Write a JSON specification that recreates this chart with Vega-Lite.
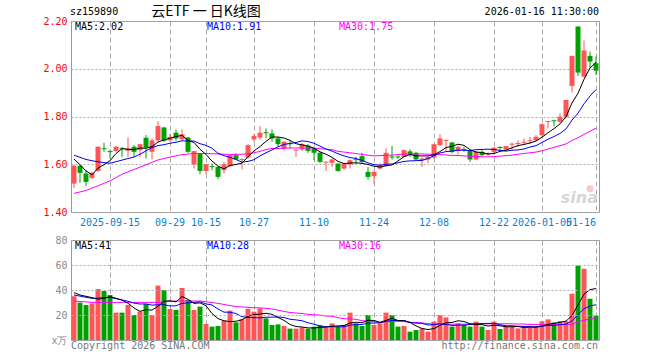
{
"$schema": "https://vega.github.io/schema/vega-lite/v6.json",
"background": "white",
"padding": {"left": 42, "top": 4, "right": 10, "bottom": 2},
"spacing": 6,
"config": {
  "view": {"stroke": "#9a9a9a", "strokeWidth": 1},
  "axis": {"labelFont": "DejaVu Sans Mono", "labelFontSize": 10, "domain": false, "ticks": false, "gridColor": "#aaaaaa", "gridWidth": 1, "labelOverlap": false, "labelBound": false},
  "axisY": {"labelFlush": false},
  "text": {"font": "DejaVu Sans Mono", "fontSize": 10}
},
"datasets": {
"k": [
{"d":"2025-09-05","o":1.519,"h":1.598,"l":1.500,"c":1.594,"v":35.0,"m5":1.622,"m10":1.638,"m30":1.478,"w5":37.9,"w10":36,"w30":31.2},
{"d":"2025-09-08","o":1.594,"h":1.597,"l":1.522,"c":1.564,"v":29.9,"m5":1.598,"w5":36},
{"d":"2025-09-09","o":1.561,"h":1.575,"l":1.509,"c":1.526,"v":28.0,"m5":1.572,"m10":1.620,"m30":1.490},
{"d":"2025-09-10","o":1.543,"h":1.568,"l":1.538,"c":1.564,"v":29.3,"m5":1.556,"w5":33.9,"w10":33.3,"w30":30.1},
{"d":"2025-09-11","o":1.572,"h":1.676,"l":1.568,"c":1.673,"v":40.8,"m5":1.584,"m10":1.610,"m30":1.510,"w5":32.6},
{"d":"2025-09-12","o":1.667,"h":1.690,"l":1.652,"c":1.663,"v":39.2,"m5":1.598,"w5":33.4},
{"d":"2025-09-15","o":1.655,"h":1.660,"l":1.624,"c":1.651,"v":36.0,"m5":1.615,"m10":1.604,"m30":1.530,"w5":34.7,"w10":34.1},
{"d":"2025-09-16","o":1.656,"h":1.676,"l":1.652,"c":1.673,"v":21.9,"m5":1.645,"w5":33.4},
{"d":"2025-09-17","o":1.668,"h":1.673,"l":1.631,"c":1.664,"v":21.9,"m5":1.665,"m30":1.558,"w5":32.0},
{"d":"2025-09-18","o":1.656,"h":1.712,"l":1.631,"c":1.666,"v":28.0,"m5":1.663,"m10":1.624,"w5":29.4,"w10":31.0,"w30":30.1},
{"d":"2025-09-19","o":1.673,"h":1.680,"l":1.631,"c":1.652,"v":20.0,"m5":1.661,"m10":1.630,"m30":1.578,"w5":25.6,"w10":29.5},
{"d":"2025-09-22","o":1.659,"h":1.686,"l":1.631,"c":1.684,"v":22.7,"m5":1.668,"m10":1.642,"w5":22.9,"w10":28.8},
{"d":"2025-09-23","o":1.711,"h":1.722,"l":1.624,"c":1.670,"v":28.8,"m5":1.667,"m10":1.656,"m30":1.598,"w5":24.3,"w10":28.9},
{"d":"2025-09-24","o":1.652,"h":1.708,"l":1.620,"c":1.700,"v":20.0,"m5":1.674,"m10":1.670,"w5":23.9,"w10":27.9},
{"d":"2025-09-25","o":1.700,"h":1.780,"l":1.694,"c":1.760,"v":43.5,"m5":1.693,"m10":1.678,"m30":1.618,"w5":27.0,"w10":28.2,"w30":30.1},
{"d":"2025-09-26","o":1.754,"h":1.757,"l":1.694,"c":1.698,"v":40.0,"m5":1.702,"m10":1.682,"w5":31.0,"w10":28.3},
{"d":"2025-09-29","o":1.700,"h":1.726,"l":1.694,"c":1.715,"v":24.8,"m5":1.709,"m10":1.688,"m30":1.630,"w5":31.4,"w10":27.2},
{"d":"2025-09-30","o":1.732,"h":1.746,"l":1.698,"c":1.708,"v":24.0,"m5":1.716,"m10":1.692,"w5":30.5,"w10":27.4,"w30":31.2},
{"d":"2025-10-09","o":1.704,"h":1.746,"l":1.700,"c":1.726,"v":41.6,"m5":1.721,"m10":1.698,"m30":1.640,"w5":34.8,"w10":29.3},
{"d":"2025-10-10","o":1.712,"h":1.715,"l":1.648,"c":1.652,"v":32.0,"m5":1.700,"m10":1.697,"w5":32.5,"w10":29.7},
{"d":"2025-10-13","o":1.600,"h":1.655,"l":1.582,"c":1.655,"v":24.0,"m5":1.691,"m10":1.697,"m30":1.645,"w5":29.3,"w10":30.1},
{"d":"2025-10-14","o":1.645,"h":1.645,"l":1.558,"c":1.572,"v":26.7,"m5":1.663,"m10":1.686,"w5":29.7,"w10":30.5,"w30":31.2},
{"d":"2025-10-15","o":1.572,"h":1.600,"l":1.558,"c":1.600,"v":12.8,"m5":1.641,"m10":1.679,"m30":1.645,"w5":27.4,"w10":28.9},
{"d":"2025-10-16","o":1.592,"h":1.603,"l":1.575,"c":1.588,"v":10.7,"m5":1.613,"m10":1.667,"w5":21.2,"w10":28.0},
{"d":"2025-10-17","o":1.589,"h":1.589,"l":1.538,"c":1.547,"v":11.2,"m5":1.592,"m10":1.646,"m30":1.643,"w5":17.1,"w10":24.8,"w30":29.3},
{"d":"2025-10-20","o":1.575,"h":1.610,"l":1.561,"c":1.600,"v":15.5,"m5":1.581,"m10":1.636,"w5":15.4,"w10":22.3},
{"d":"2025-10-21","o":1.592,"h":1.641,"l":1.589,"c":1.638,"v":23.5,"m5":1.595,"m10":1.629,"m30":1.641,"w5":14.7,"w10":22.2},
{"d":"2025-10-22","o":1.638,"h":1.645,"l":1.617,"c":1.620,"v":14.1,"m5":1.599,"m10":1.620,"w5":15.0,"w10":21.2,"w30":26.7},
{"d":"2025-10-23","o":1.618,"h":1.624,"l":1.578,"c":1.622,"v":16.5,"m5":1.605,"m10":1.609,"m30":1.642,"w5":16.2,"w10":18.7},
{"d":"2025-10-24","o":1.628,"h":1.684,"l":1.624,"c":1.680,"v":25.0,"m5":1.632,"m10":1.612,"m30":1.644,"w5":18.9,"w10":18.0,"w30":26.2},
{"d":"2025-10-27","o":1.704,"h":1.726,"l":1.694,"c":1.718,"v":22.7,"m5":1.656,"m10":1.619,"m30":1.648,"w5":20.4,"w10":17.9,"w30":25.8},
{"d":"2025-10-28","o":1.712,"h":1.760,"l":1.704,"c":1.732,"v":25.3,"m5":1.674,"m10":1.635,"m30":1.654,"w5":20.7,"w10":17.7,"w30":25.7},
{"d":"2025-10-29","o":1.734,"h":1.750,"l":1.708,"c":1.730,"v":17.3,"m5":1.696,"m10":1.648,"m30":1.661,"w5":21.4,"w10":18.2,"w30":25.3},
{"d":"2025-10-30","o":1.729,"h":1.746,"l":1.694,"c":1.708,"v":12.0,"m5":1.714,"m10":1.660,"m30":1.666,"w5":20.5,"w10":18.3,"w30":24.8},
{"d":"2025-10-31","o":1.708,"h":1.715,"l":1.673,"c":1.684,"v":12.5,"m5":1.714,"m10":1.673,"m30":1.666,"w5":18.0,"w10":18.4,"w30":23.8},
{"d":"2025-11-03","o":1.666,"h":1.698,"l":1.659,"c":1.694,"v":11.2,"m5":1.710,"m10":1.683,"m30":1.667,"w5":15.7,"w10":18.0,"w30":22.9},
{"d":"2025-11-04","o":1.688,"h":1.700,"l":1.666,"c":1.684,"v":9.1,"m5":1.700,"m10":1.687,"m30":1.668,"w5":12.4,"w10":16.6,"w30":22.0},
{"d":"2025-11-05","o":1.657,"h":1.662,"l":1.631,"c":1.661,"v":9.1,"m5":1.686,"m10":1.691,"m30":1.668,"w5":10.8,"w10":16.1,"w30":21.6},
{"d":"2025-11-06","o":1.662,"h":1.690,"l":1.656,"c":1.684,"v":10.1,"m5":1.681,"m10":1.698,"m30":1.668,"w5":10.4,"w10":15.4,"w30":21.2},
{"d":"2025-11-07","o":1.678,"h":1.684,"l":1.648,"c":1.656,"v":9.1,"m5":1.676,"m10":1.695,"m30":1.668,"w5":9.7,"w10":13.8,"w30":20.5},
{"d":"2025-11-10","o":1.666,"h":1.670,"l":1.617,"c":1.648,"v":10.7,"m5":1.667,"m10":1.688,"m30":1.668,"w5":9.6,"w10":12.6,"w30":20.2},
{"d":"2025-11-11","o":1.648,"h":1.652,"l":1.606,"c":1.610,"v":11.7,"m5":1.652,"m10":1.676,"m30":1.665,"w5":10.1,"w10":11.3,"w30":19.9},
{"d":"2025-11-12","o":1.607,"h":1.611,"l":1.572,"c":1.611,"v":10.1,"m5":1.642,"m10":1.664,"m30":1.663,"w5":10.3,"w10":10.6,"w30":19.2},
{"d":"2025-11-13","o":1.606,"h":1.624,"l":1.589,"c":1.620,"v":13.3,"m5":1.629,"m10":1.655,"m30":1.661,"w5":11.0,"w10":10.7,"w30":19.0},
{"d":"2025-11-14","o":1.603,"h":1.603,"l":1.568,"c":1.572,"v":10.7,"m5":1.612,"m10":1.644,"m30":1.654,"w5":11.3,"w10":10.5,"w30":17.9},
{"d":"2025-11-17","o":1.582,"h":1.606,"l":1.578,"c":1.603,"v":12.0,"m5":1.603,"m10":1.635,"m30":1.651,"w5":11.6,"w10":10.6,"w30":17.0},
{"d":"2025-11-18","o":1.600,"h":1.620,"l":1.582,"c":1.617,"v":21.9,"m5":1.605,"m10":1.628,"m30":1.648,"w5":13.6,"w10":11.9,"w30":16.9},
{"d":"2025-11-19","o":1.621,"h":1.631,"l":1.600,"c":1.617,"v":13.3,"m5":1.606,"m10":1.624,"m30":1.645,"w5":14.2,"w10":12.3,"w30":16.5},
{"d":"2025-11-20","o":1.634,"h":1.648,"l":1.603,"c":1.610,"v":11.2,"m5":1.604,"m10":1.616,"m30":1.641,"w5":13.8,"w10":12.4,"w30":15.5},
{"d":"2025-11-21","o":1.568,"h":1.589,"l":1.536,"c":1.547,"v":20.0,"m5":1.599,"m10":1.606,"m30":1.638,"w5":15.7,"w10":13.5,"w30":15.1},
{"d":"2025-11-24","o":1.550,"h":1.575,"l":1.519,"c":1.568,"v":12.0,"m5":1.592,"m10":1.598,"m30":1.635,"w5":15.7,"w10":13.6,"w30":14.7},
{"d":"2025-11-25","o":1.582,"h":1.603,"l":1.578,"c":1.596,"v":13.3,"m5":1.588,"m10":1.596,"m30":1.636,"w5":14.0,"w10":13.8,"w30":14.3},
{"d":"2025-11-26","o":1.592,"h":1.666,"l":1.589,"c":1.648,"v":21.9,"m5":1.594,"m10":1.600,"m30":1.637,"w5":15.7,"w10":15.0,"w30":14.6},
{"d":"2025-11-27","o":1.632,"h":1.676,"l":1.620,"c":1.628,"v":20.0,"m5":1.597,"m10":1.601,"m30":1.638,"w5":17.4,"w10":15.6,"w30":14.9},
{"d":"2025-11-28","o":1.633,"h":1.636,"l":1.622,"c":1.629,"v":10.7,"m5":1.614,"m10":1.606,"m30":1.641,"w5":15.6,"w10":15.6,"w30":14.9},
{"d":"2025-12-01","o":1.631,"h":1.662,"l":1.628,"c":1.659,"v":11.2,"m5":1.632,"m10":1.612,"m30":1.643,"w5":15.4,"w10":15.6,"w30":14.7},
{"d":"2025-12-02","o":1.654,"h":1.662,"l":1.631,"c":1.641,"v":6.7,"m5":1.641,"m10":1.614,"m30":1.643,"w5":14.1,"w10":14.0,"w30":14.2},
{"d":"2025-12-03","o":1.648,"h":1.652,"l":1.617,"c":1.620,"v":8.0,"m5":1.635,"m10":1.615,"m30":1.643,"w5":11.3,"w10":13.5,"w30":14.0},
{"d":"2025-12-04","o":1.617,"h":1.628,"l":1.589,"c":1.624,"v":9.3,"m5":1.635,"m10":1.616,"m30":1.643,"w5":9.2,"w10":13.3,"w30":13.7},
{"d":"2025-12-05","o":1.620,"h":1.634,"l":1.606,"c":1.630,"v":6.7,"m5":1.635,"m10":1.624,"m30":1.642,"w5":8.4,"w10":12.0,"w30":13.1},
{"d":"2025-12-08","o":1.628,"h":1.684,"l":1.624,"c":1.684,"v":14.7,"m5":1.640,"m10":1.636,"m30":1.641,"w5":9.1,"w10":12.3,"w30":12.8},
{"d":"2025-12-09","o":1.680,"h":1.726,"l":1.676,"c":1.708,"v":20.0,"m5":1.653,"m10":1.647,"m30":1.640,"w5":11.7,"w10":12.9,"w30":12.7},
{"d":"2025-12-10","o":1.698,"h":1.704,"l":1.656,"c":1.702,"v":18.1,"m5":1.670,"m10":1.653,"m30":1.639,"w5":13.8,"w10":12.5,"w30":12.7},
{"d":"2025-12-11","o":1.691,"h":1.694,"l":1.645,"c":1.652,"v":10.7,"m5":1.675,"m10":1.655,"m30":1.637,"w5":14.0,"w10":11.6,"w30":12.6},
{"d":"2025-12-12","o":1.656,"h":1.676,"l":1.642,"c":1.673,"v":13.3,"m5":1.684,"m10":1.659,"m30":1.637,"w5":15.4,"w10":11.9,"w30":12.7},
{"d":"2025-12-15","o":1.664,"h":1.673,"l":1.652,"c":1.660,"v":12.0,"m5":1.679,"m10":1.659,"m30":1.635,"w5":14.8,"w10":12.0,"w30":12.7},
{"d":"2025-12-16","o":1.656,"h":1.659,"l":1.610,"c":1.620,"v":10.7,"m5":1.661,"m10":1.657,"m30":1.633,"w5":13.0,"w10":12.4,"w30":12.8},
{"d":"2025-12-17","o":1.620,"h":1.655,"l":1.617,"c":1.652,"v":14.7,"m5":1.651,"m10":1.661,"m30":1.633,"w5":12.3,"w10":13.0,"w30":12.9},
{"d":"2025-12-18","o":1.652,"h":1.659,"l":1.634,"c":1.638,"v":10.7,"m5":1.649,"m10":1.662,"m30":1.631,"w5":12.3,"w10":13.2,"w30":13.0},
{"d":"2025-12-19","o":1.640,"h":1.650,"l":1.635,"c":1.645,"v":8.0,"m5":1.643,"m10":1.663,"m30":1.631,"w5":11.2,"w10":13.3,"w30":12.9},
{"d":"2025-12-22","o":1.652,"h":1.673,"l":1.642,"c":1.669,"v":14.7,"m5":1.645,"m10":1.662,"m30":1.632,"w5":11.8,"w10":13.3,"w30":13.1},
{"d":"2025-12-23","o":1.672,"h":1.676,"l":1.656,"c":1.668,"v":8.8,"m5":1.654,"m10":1.658,"m30":1.634,"w5":11.4,"w10":12.2,"w30":13.0},
{"d":"2025-12-24","o":1.662,"h":1.676,"l":1.656,"c":1.676,"v":10.7,"m5":1.659,"m10":1.655,"m30":1.636,"w5":10.6,"w10":11.4,"w30":13.0},
{"d":"2025-12-25","o":1.682,"h":1.690,"l":1.662,"c":1.686,"v":10.7,"m5":1.669,"m10":1.659,"m30":1.638,"w5":10.6,"w10":11.4,"w30":12.9},
{"d":"2025-12-26","o":1.685,"h":1.700,"l":1.673,"c":1.689,"v":9.3,"m5":1.678,"m10":1.660,"m30":1.642,"w5":10.8,"w10":11.0,"w30":12.8},
{"d":"2025-12-29","o":1.690,"h":1.708,"l":1.680,"c":1.694,"v":10.7,"m5":1.683,"m10":1.664,"m30":1.645,"w5":10.0,"w10":10.9,"w30":12.8},
{"d":"2025-12-30","o":1.696,"h":1.715,"l":1.684,"c":1.700,"v":10.1,"m5":1.689,"m10":1.672,"m30":1.648,"w5":10.3,"w10":10.8,"w30":12.4},
{"d":"2025-12-31","o":1.700,"h":1.722,"l":1.698,"c":1.715,"v":10.7,"m5":1.697,"m10":1.678,"m30":1.651,"w5":10.3,"w10":10.4,"w30":12.3},
{"d":"2026-01-05","o":1.722,"h":1.771,"l":1.715,"c":1.768,"v":15.0,"m5":1.713,"m10":1.691,"m30":1.656,"w5":11.2,"w10":10.9,"w30":12.4},
{"d":"2026-01-06","o":1.777,"h":1.782,"l":1.750,"c":1.781,"v":16.5,"m5":1.732,"m10":1.705,"m30":1.664,"w5":12.6,"w10":11.7,"w30":12.3},
{"d":"2026-01-07","o":1.784,"h":1.786,"l":1.758,"c":1.780,"v":14.0,"m5":1.749,"m10":1.716,"m30":1.671,"w5":13.3,"w10":11.7,"w30":12.4},
{"d":"2026-01-08","o":1.778,"h":1.813,"l":1.774,"c":1.799,"v":15.0,"m5":1.769,"m10":1.729,"m30":1.678,"w5":14.2,"w10":12.3,"w30":12.5},
{"d":"2026-01-09","o":1.799,"h":1.869,"l":1.792,"c":1.869,"v":15.0,"m5":1.799,"m10":1.748,"m30":1.685,"w5":15.1,"w10":12.7,"w30":12.2},
{"d":"2026-01-12","o":1.928,"h":2.054,"l":1.900,"c":2.054,"v":37.0,"m5":1.857,"m10":1.785,"m30":1.700,"w5":19.5,"w10":15.3,"w30":12.8},
{"d":"2026-01-13","o":2.177,"h":2.177,"l":1.970,"c":1.984,"v":59.5,"m5":1.897,"m10":1.814,"m30":1.711,"w5":28.1,"w10":20.4,"w30":14.4},
{"d":"2026-01-14","o":1.967,"h":2.118,"l":1.964,"c":2.076,"v":57.0,"m5":1.956,"m10":1.853,"m30":1.725,"w5":36.7,"w10":25.0,"w30":15.9},
{"d":"2026-01-15","o":2.054,"h":2.072,"l":2.002,"c":2.030,"v":33.0,"m5":2.003,"m10":1.886,"m30":1.738,"w5":40.3,"w10":27.3,"w30":16.8},
{"d":"2026-01-16","o":2.023,"h":2.051,"l":1.974,"c":1.992,"v":19.5,"m5":2.027,"m10":1.913,"m30":1.751,"w5":41.2,"w10":28.2,"w30":17.2}
]
},
"vconcat": [
{
  "width": 528, "height": 191,
  "data": {"name": "k"},
  "encoding": {
    "x": {"field": "d", "type": "ordinal", "sort": "ascending",
      "scale": {"type": "band", "paddingInner": 0, "paddingOuter": 0},
      "axis": {"title": null, "values": ["2025-09-15","2025-09-29","2025-10-15","2025-10-27","2025-11-10","2025-11-24","2025-12-08","2025-12-22","2026-01-05","2026-01-16"],
        "labelExpr": "indexof(['2025-09-15','2026-01-05'], datum.value) >= 0 ? datum.value : slice(datum.value, 5)",
        "labelColor": "#0a7fd0", "labelPadding": 5, "labelAngle": 0, "labelFlush": 10, "labelOverlap": false,
        "grid": true, "gridDash": [5, 3], "bandPosition": 0.5}}
  },
  "layer": [
    {"mark": {"type": "rule", "strokeWidth": 1},
     "encoding": {
       "y": {"field": "l", "type": "quantitative", "title": null,
         "scale": {"domain": [1.4, 2.2], "zero": false, "nice": false},
         "axis": {"title": null, "values": [1.4, 1.6, 1.8, 2.0, 2.2], "format": ".2f", "labelColor": "#ff0000", "labelPadding": 4, "grid": true, "gridDash": [2, 2]}},
       "y2": {"field": "h"},
       "color": {"condition": {"test": "datum.c >= datum.o", "value": "#ff5555"}, "value": "#00a000"}}},
    {"mark": {"type": "bar", "width": {"band": 0.83}},
     "encoding": {
       "y": {"field": "o", "type": "quantitative", "title": null,
         "axis": {"title": null, "values": [1.4, 1.6, 1.8, 2.0, 2.2], "format": ".2f", "labelColor": "#ff0000", "labelPadding": 4, "grid": true, "gridDash": [2, 2]}},
       "y2": {"field": "c"},
       "color": {"condition": {"test": "datum.c >= datum.o", "value": "#ff5555"}, "value": "#00a000"}}},
    {"transform": [{"filter": "isValid(datum.m30)"}],
     "mark": {"type": "line", "color": "#ff00ff", "strokeWidth": 1},
     "encoding": {"y": {"field": "m30", "type": "quantitative", "title": null,
         "axis": {"title": null, "values": [1.4, 1.6, 1.8, 2.0, 2.2], "format": ".2f", "labelColor": "#ff0000", "labelPadding": 4, "grid": true, "gridDash": [2, 2]}}}},
    {"transform": [{"filter": "isValid(datum.m10)"}],
     "mark": {"type": "line", "color": "#0000ff", "strokeWidth": 1},
     "encoding": {"y": {"field": "m10", "type": "quantitative", "title": null,
         "axis": {"title": null, "values": [1.4, 1.6, 1.8, 2.0, 2.2], "format": ".2f", "labelColor": "#ff0000", "labelPadding": 4, "grid": true, "gridDash": [2, 2]}}}},
    {"transform": [{"filter": "isValid(datum.m5)"}],
     "mark": {"type": "line", "color": "#000000", "strokeWidth": 1},
     "encoding": {"y": {"field": "m5", "type": "quantitative", "title": null,
         "axis": {"title": null, "values": [1.4, 1.6, 1.8, 2.0, 2.2], "format": ".2f", "labelColor": "#ff0000", "labelPadding": 4, "grid": true, "gridDash": [2, 2]}}}},
    {"data": {"values": [
       {"d": "2025-09-05", "p": 2.173, "t": "MA5:2.02", "k": "a"},
       {"d": "2025-10-15", "p": 2.173, "t": "MA10:1.91", "k": "b"},
       {"d": "2025-11-14", "p": 2.173, "t": "MA30:1.75", "k": "c"}]},
     "mark": {"type": "text", "align": "left", "baseline": "middle", "dx": 1},
     "encoding": {
       "y": {"field": "p", "type": "quantitative", "title": null,
         "axis": {"title": null, "values": [1.4, 1.6, 1.8, 2.0, 2.2], "format": ".2f", "labelColor": "#ff0000", "labelPadding": 4, "grid": true, "gridDash": [2, 2]}},
       "text": {"field": "t", "type": "nominal"},
       "color": {"field": "k", "type": "nominal", "legend": null, "scale": {"domain": ["a", "b", "c"], "range": ["#000000", "#0000ff", "#ff00ff"]}}}},
    {"data": {"values": [{"d": "2025-09-05", "p": 2.236, "t": "sz159890"}]},
     "mark": {"type": "text", "align": "left", "baseline": "middle", "dx": -4, "color": "#000000"},
     "encoding": {"y": {"field": "p", "type": "quantitative", "title": null,
         "axis": {"title": null, "values": [1.4, 1.6, 1.8, 2.0, 2.2], "format": ".2f", "labelColor": "#ff0000", "labelPadding": 4, "grid": true, "gridDash": [2, 2]}}, "text": {"field": "t", "type": "nominal"}}},
    {"data": {"values": [{"d": "2025-10-15", "p": 2.236, "t": "云ETF 一 日K线图"}]},
     "mark": {"type": "text", "align": "center", "baseline": "middle", "font": "Noto Sans CJK SC", "fontSize": 14, "color": "#000000"},
     "encoding": {"y": {"field": "p", "type": "quantitative", "title": null,
         "axis": {"title": null, "values": [1.4, 1.6, 1.8, 2.0, 2.2], "format": ".2f", "labelColor": "#ff0000", "labelPadding": 4, "grid": true, "gridDash": [2, 2]}}, "text": {"field": "t", "type": "nominal"}}},
    {"data": {"values": [{"d": "2026-01-16", "p": 2.236, "t": "2026-01-16 11:30:00"}]},
     "mark": {"type": "text", "align": "right", "baseline": "middle", "dx": 3, "color": "#000000"},
     "encoding": {"y": {"field": "p", "type": "quantitative", "title": null,
         "axis": {"title": null, "values": [1.4, 1.6, 1.8, 2.0, 2.2], "format": ".2f", "labelColor": "#ff0000", "labelPadding": 4, "grid": true, "gridDash": [2, 2]}}, "text": {"field": "t", "type": "nominal"}}},
    {"data": {"values": [{"d": "2026-01-15", "p": 1.497}]},
     "mark": {"type": "point", "filled": true, "size": 50, "color": "#f4c4c4", "opacity": 0.9},
     "encoding": {"y": {"field": "p", "type": "quantitative", "title": null,
         "axis": {"title": null, "values": [1.4, 1.6, 1.8, 2.0, 2.2], "format": ".2f", "labelColor": "#ff0000", "labelPadding": 4, "grid": true, "gridDash": [2, 2]}}}},
    {"data": {"values": [{"d": "2026-01-16", "p": 1.458, "t": "sina"}]},
     "mark": {"type": "text", "align": "right", "baseline": "middle", "dx": 2, "font": "DejaVu Sans", "fontSize": 16, "fontStyle": "italic", "fontWeight": "bold", "color": "#d6d6d6"},
     "encoding": {"y": {"field": "p", "type": "quantitative", "title": null,
         "axis": {"title": null, "values": [1.4, 1.6, 1.8, 2.0, 2.2], "format": ".2f", "labelColor": "#ff0000", "labelPadding": 4, "grid": true, "gridDash": [2, 2]}}, "text": {"field": "t", "type": "nominal"}}}
  ]
},
{
  "width": 528, "height": 100,
  "data": {"name": "k"},
  "encoding": {
    "x": {"field": "d", "type": "ordinal", "sort": "ascending",
      "scale": {"type": "band", "paddingInner": 0, "paddingOuter": 0},
      "axis": {"title": null, "labels": false, "values": ["2025-09-15","2025-09-29","2025-10-15","2025-10-27","2025-11-10","2025-11-24","2025-12-08","2025-12-22","2026-01-05","2026-01-16"],
        "grid": true, "gridDash": [5, 3], "bandPosition": 0.5}}
  },
  "layer": [
    {"mark": {"type": "bar", "width": {"band": 0.83}},
     "encoding": {
       "y": {"field": "v", "type": "quantitative", "title": null,
         "scale": {"domain": [0, 80], "nice": false},
         "axis": {"title": null, "values": [0, 20, 40, 60, 80], "labelExpr": "datum.value == 0 ? 'x万' : datum.label", "labelColor": "#8a8a8a", "labelPadding": 4, "zindex": 2, "grid": true, "gridDash": [2, 2]}},
       "color": {"condition": {"test": "datum.c >= datum.o", "value": "#ff5555"}, "value": "#00a000"}}},
    {"transform": [{"filter": "isValid(datum.w30)"}],
     "mark": {"type": "line", "color": "#ff00ff", "strokeWidth": 1},
     "encoding": {"y": {"field": "w30", "type": "quantitative", "title": null,
         "axis": {"title": null, "values": [0, 20, 40, 60, 80], "labelExpr": "datum.value == 0 ? 'x万' : datum.label", "labelColor": "#8a8a8a", "labelPadding": 4, "zindex": 2, "grid": true, "gridDash": [2, 2]}}}},
    {"transform": [{"filter": "isValid(datum.w10)"}],
     "mark": {"type": "line", "color": "#0000ff", "strokeWidth": 1},
     "encoding": {"y": {"field": "w10", "type": "quantitative", "title": null,
         "axis": {"title": null, "values": [0, 20, 40, 60, 80], "labelExpr": "datum.value == 0 ? 'x万' : datum.label", "labelColor": "#8a8a8a", "labelPadding": 4, "zindex": 2, "grid": true, "gridDash": [2, 2]}}}},
    {"transform": [{"filter": "isValid(datum.w5)"}],
     "mark": {"type": "line", "color": "#000000", "strokeWidth": 1},
     "encoding": {"y": {"field": "w5", "type": "quantitative", "title": null,
         "axis": {"title": null, "values": [0, 20, 40, 60, 80], "labelExpr": "datum.value == 0 ? 'x万' : datum.label", "labelColor": "#8a8a8a", "labelPadding": 4, "zindex": 2, "grid": true, "gridDash": [2, 2]}}}},
    {"data": {"values": [
       {"d": "2025-09-05", "p": 75.4, "t": "MA5:41", "k": "a"},
       {"d": "2025-10-15", "p": 75.4, "t": "MA10:28", "k": "b"},
       {"d": "2025-11-14", "p": 75.4, "t": "MA30:16", "k": "c"}]},
     "mark": {"type": "text", "align": "left", "baseline": "middle", "dx": 1},
     "encoding": {
       "y": {"field": "p", "type": "quantitative", "title": null,
         "axis": {"title": null, "values": [0, 20, 40, 60, 80], "labelExpr": "datum.value == 0 ? 'x万' : datum.label", "labelColor": "#8a8a8a", "labelPadding": 4, "zindex": 2, "grid": true, "gridDash": [2, 2]}},
       "text": {"field": "t", "type": "nominal"},
       "color": {"field": "k", "type": "nominal", "legend": null, "scale": {"domain": ["a", "b", "c"], "range": ["#000000", "#0000ff", "#ff00ff"]}}}},
    {"data": {"values": [{"d": "2025-09-05", "p": -4.8, "t": "Copyright 2026 SINA.COM"}]},
     "mark": {"type": "text", "align": "left", "baseline": "middle", "dx": -3, "color": "#777777"},
     "encoding": {"y": {"field": "p", "type": "quantitative", "title": null,
         "axis": {"title": null, "values": [0, 20, 40, 60, 80], "labelExpr": "datum.value == 0 ? 'x万' : datum.label", "labelColor": "#8a8a8a", "labelPadding": 4, "zindex": 2, "grid": true, "gridDash": [2, 2]}}, "text": {"field": "t", "type": "nominal"}}},
    {"data": {"values": [{"d": "2026-01-16", "p": -4.8, "t": "http://finance.sina.com.cn"}]},
     "mark": {"type": "text", "align": "right", "baseline": "middle", "dx": 2, "color": "#777777"},
     "encoding": {"y": {"field": "p", "type": "quantitative", "title": null,
         "axis": {"title": null, "values": [0, 20, 40, 60, 80], "labelExpr": "datum.value == 0 ? 'x万' : datum.label", "labelColor": "#8a8a8a", "labelPadding": 4, "zindex": 2, "grid": true, "gridDash": [2, 2]}}, "text": {"field": "t", "type": "nominal"}}}
  ]
}
]
}
